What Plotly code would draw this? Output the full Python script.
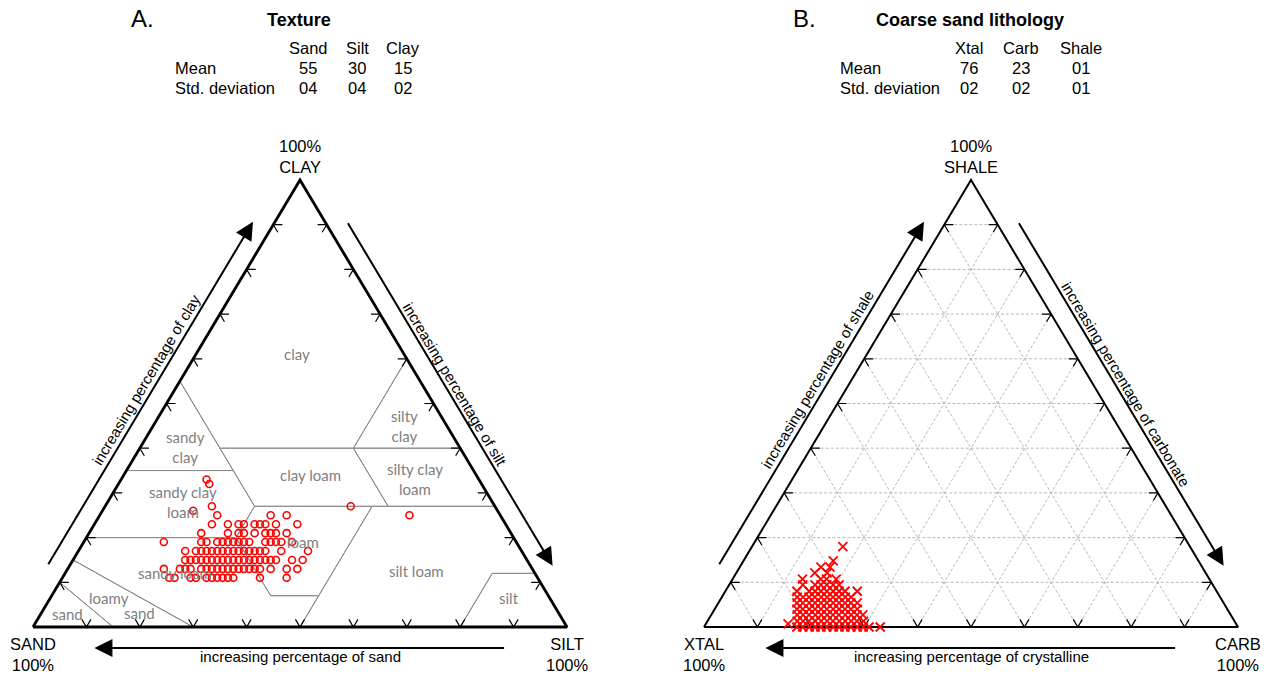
import math
import plotly.graph_objects as go

# ---------------------------------------------------------------- data ----
# Panel A - soil texture of the samples, grouped by clay content (%);
# each row lists the silt contents (%) observed at that clay level.
tex_clay_rows = [11, 13, 15, 17, 19, 21, 23, 25, 26, 27, 32, 33]
tex_silt_rows = [
    [20, 21, 24, 25, 27, 28, 29, 30, 31, 32, 37, 42],
    [18, 21, 22, 23, 25, 26, 27, 28, 29, 30, 31, 32, 33, 34, 35, 36, 38, 41, 43],
    [21, 22, 23, 24, 25, 26, 27, 28, 29, 30, 31, 32, 33, 34, 35, 36, 37, 38, 41, 43],
    [20, 22, 23, 24, 25, 26, 27, 28, 29, 30, 31, 32, 33, 34, 35, 38, 43],
    [15, 22, 23, 25, 26, 27, 28, 29, 30, 31, 34, 35, 36, 37, 39],
    [21, 26, 28, 29, 31, 33, 34, 35, 37],
    [22, 25, 27, 28, 30, 31, 32, 34, 38],
    [22, 32, 35, 58],
    [17],
    [20, 46],
    [17],
    [16],
]

# Panel B - coarse sand lithology, grouped by shale content (%);
# each row lists the carbonate contents (%) at that shale level.
lith_shale_rows = [0, 0.7, 1.3, 2.7, 4.0, 5.4, 6.7, 8.0, 9.4, 10.7, 12.1, 13.4, 14.8, 18.0]
lith_carb_rows = [
    [17.4, 18.5, 19.7, 20.8, 21.9, 23.0, 24.2, 25.3, 26.4, 27.5, 28.7, 29.8, 30.9, 33.0],
    [15.4],
    [16.8, 17.9, 19.0, 20.2, 21.3, 22.4, 23.5, 24.7, 25.8, 26.9, 28.0, 29.2],
    [16.1, 17.2, 18.3, 19.5, 20.6, 21.7, 22.8, 23.9, 25.1, 26.2, 27.3, 28.4],
    [15.4, 16.5, 17.7, 18.8, 19.9, 21.0, 22.2, 23.3, 24.4, 25.5, 26.7],
    [14.7, 15.8, 17.0, 18.1, 19.2, 20.3, 21.5, 22.6, 23.7, 24.8, 26.0],
    [14.1, 15.2, 16.3, 17.4, 18.6, 19.7, 20.8, 21.9, 23.1, 24.2],
    [13.4, 15.7, 16.8, 17.9, 19.0, 20.2, 21.3, 22.4, 24.7],
    [13.8, 16.1, 17.2, 18.3, 19.5, 20.6],
    [13.1, 16.5, 17.6, 19.4],
    [14.7, 17.0],
    [15.2, 16.9],
    [16.8],
    [17.0],
]

# summary tables
tex_columns = ["Sand", "Silt", "Clay"]
tex_mean = ["55", "30", "15"]
tex_sd = ["04", "04", "02"]
lith_columns = ["Xtal", "Carb", "Shale"]
lith_mean = ["76", "23", "01"]
lith_sd = ["02", "02", "01"]

# USDA texture classes, vertices as (sand, silt, clay) %
usda_classes = {
    "clay": [(0, 0, 100), (45, 0, 55), (45, 15, 40), (20, 40, 40), (0, 40, 60)],
    "sandy clay": [(45, 0, 55), (65, 0, 35), (45, 20, 35), (45, 15, 40)],
    "silty clay": [(0, 40, 60), (20, 40, 40), (0, 60, 40)],
    "clay loam": [(45, 15, 40), (45, 28, 27), (20, 53, 27), (20, 40, 40)],
    "silty clay loam": [(20, 40, 40), (20, 53, 27), (0, 73, 27), (0, 60, 40)],
    "sandy clay loam": [(65, 0, 35), (80, 0, 20), (52, 28, 20), (45, 28, 27), (45, 20, 35)],
    "loam": [(45, 28, 27), (52, 28, 20), (52, 41, 7), (43, 50, 7), (23, 50, 27)],
    "silt loam": [(50, 50, 0), (43, 50, 7), (23, 50, 27), (0, 73, 27), (0, 88, 12),
                  (8, 80, 12), (20, 80, 0)],
    "silt": [(20, 80, 0), (8, 80, 12), (0, 88, 12), (0, 100, 0)],
    "sandy loam": [(80, 0, 20), (52, 28, 20), (52, 41, 7), (43, 50, 7), (50, 50, 0),
                   (70, 30, 0), (85, 0, 15)],
    "loamy sand": [(85, 0, 15), (70, 30, 0), (85, 15, 0), (90, 0, 10)],
    "sand": [(90, 0, 10), (85, 15, 0), (100, 0, 0)],
}

# class names and where they sit, as (sand, silt, clay) %
class_labels = [
    ("clay", (20, 19, 61)),
    ("sandy<br>clay", (51.4, 8.4, 40.2)),
    ("silty<br>clay", (8, 47, 45)),
    ("clay loam", (31, 35, 34)),
    ("silty clay<br>loam", (12, 55, 33)),
    ("sandy clay<br>loam", (58, 14, 28)),
    ("loam", (40, 41, 19)),
    ("sandy loam", (67.5, 20.5, 12)),
    ("silt loam", (22, 65.5, 12.5)),
    ("loamy", (82.5, 11, 6.5)),
    ("sand", (78.6, 18.3, 3.1)),
    ("sand", (92, 5, 3)),
    ("silt", (7.6, 86, 6.4)),
]

# ------------------------------------------------------------ geometry ----
W_FIG, H_FIG = 1271, 675
SANS = "Liberation Sans, Arial, sans-serif"
CLASS_FONT = "Lato, Carlito, sans-serif"

PANELS = {
    "A": dict(x0=33, base=627, w=534, h=447),
    "B": dict(x0=704, base=627, w=534, h=447),
}


def to_xy(p, right, top):
    """Ternary composition (right-corner %, top-corner %) to plot coords."""
    g = PANELS[p]
    x = g["x0"] + (right + top / 2.0) / 100.0 * g["w"]
    y = g["base"] - top / 100.0 * g["h"]
    return x, y


def normals(p):
    g = PANELS[p]
    L = math.hypot(g["w"] / 2.0, g["h"])
    left = (-g["h"] / L, -(g["w"] / 2.0) / L)
    right = (g["h"] / L, -(g["w"] / 2.0) / L)
    return left, right, (0.0, 1.0)


def edge_angle(p):
    g = PANELS[p]
    return math.degrees(math.atan2(g["h"], g["w"] / 2.0))


fig = go.Figure()
ann = []


def add_text(x, y, s, size=13, color="black", family=SANS, angle=0,
             xanchor="center", yanchor="middle"):
    ann.append(dict(x=x, y=y, xref="x", yref="y", text=s, showarrow=False,
                    font=dict(size=size, color=color, family=family),
                    textangle=angle, xanchor=xanchor, yanchor=yanchor))


def add_arrow(tail, tip):
    ann.append(dict(x=tip[0], y=tip[1], ax=tail[0], ay=tail[1],
                    xref="x", yref="y", axref="x", ayref="y", text="",
                    showarrow=True, arrowhead=2, arrowsize=1.8,
                    arrowwidth=2, arrowcolor="black", standoff=0))


def path_trace(xs, ys, color, width, dash="solid"):
    fig.add_trace(go.Scatter(x=xs, y=ys, mode="lines", hoverinfo="skip",
                             line=dict(color=color, width=width, dash=dash)))


# -------------------------------------------- panel B dashed grid lines ----
gx, gy = [], []
for k in range(10, 100, 10):
    for a, b in (((0, k), (100 - k, k)),
                 ((k, 0), (k, 100 - k)),
                 ((100 - k, 0), (0, 100 - k))):
        p1, p2 = to_xy("B", *a), to_xy("B", *b)
        gx += [p1[0], p2[0], None]
        gy += [p1[1], p2[1], None]
path_trace(gx, gy, "#b8b8b8", 1, dash="3px,2px")

# ------------------------------------------------ panel A class borders ----
cx, cy = [], []
for verts in usda_classes.values():
    pts = [to_xy("A", silt, clay) for sand, silt, clay in verts]
    pts.append(pts[0])
    cx += [q[0] for q in pts] + [None]
    cy += [q[1] for q in pts] + [None]
path_trace(cx, cy, "#8a8a8a", 1)

for name, (sand, silt, clay) in class_labels:
    x, y = to_xy("A", silt, clay)
    add_text(x, y, name, size=15, color="#808080", family=CLASS_FONT)

# ------------------------------------------- ticks, frames and arrows ----
TICK = 1.7
for p, frame_w in (("A", 2.8), ("B", 2.0)):
    tx, ty = [], []
    for k in range(10, 100, 10):
        arms = [
            (to_xy(p, k - TICK, TICK), to_xy(p, k, 0), to_xy(p, k, TICK)),
            (to_xy(p, TICK, k), to_xy(p, 0, k), to_xy(p, TICK, k - TICK)),
            (to_xy(p, 100 - k - TICK, k), to_xy(p, 100 - k, k),
             to_xy(p, 100 - k, k - TICK)),
        ]
        for a1, c, a2 in arms:
            tx += [a1[0], c[0], a2[0], None]
            ty += [a1[1], c[1], a2[1], None]
    path_trace(tx, ty, "black", 1.2)

    corners = [to_xy(p, 0, 0), to_xy(p, 100, 0), to_xy(p, 0, 100), to_xy(p, 0, 0)]
    path_trace([q[0] for q in corners], [q[1] for q in corners], "black", frame_w)

    n_left, n_right, n_bot = normals(p)
    off_line, off_text = 19, 30

    def shift(pt, n, d):
        return (pt[0] + n[0] * d, pt[1] + n[1] * d)

    # arrows alongside the three edges
    add_arrow(shift(to_xy(p, 0, 11.5), n_left, off_line),
              shift(to_xy(p, 0, 88.5), n_left, off_line))
    add_arrow(shift(to_xy(p, 11.5, 88.5), n_right, off_line),
              shift(to_xy(p, 88.5, 11.5), n_right, off_line))
    add_arrow(shift(to_xy(p, 88.5, 0), n_bot, 21),
              shift(to_xy(p, 11.5, 0), n_bot, 21))

    ang = edge_angle(p)
    if p == "A":
        words = ("clay", "silt", "sand")
        names = ("CLAY", "SAND", "SILT")
    else:
        words = ("shale", "carbonate", "crystalline")
        names = ("SHALE", "XTAL", "CARB")
    lx, ly = shift(to_xy(p, 0, 52), n_left, off_text)
    add_text(lx, ly, "increasing percentage of " + words[0], size=15, angle=-ang)
    rx, ry = shift(to_xy(p, 49, 51), n_right, off_text - 2)
    add_text(rx, ry, "increasing percentage of " + words[1], size=15, angle=ang)
    bx, by = to_xy(p, 50, 0)
    add_text(bx, by + 29, "increasing percentage of " + words[2], size=15)

    apex = to_xy(p, 0, 100)
    add_text(apex[0], apex[1] - 24, "100%<br>" + names[0], size=16.5)
    lc, rc = to_xy(p, 0, 0), to_xy(p, 100, 0)
    add_text(lc[0], lc[1] + 27, names[1] + "<br>100%", size=16.5)
    add_text(rc[0], rc[1] + 27, names[2] + "<br>100%", size=16.5)

# ---------------------------------------------------------- data marks ----
tx_, ty_ = [], []
for clay, silts in zip(tex_clay_rows, tex_silt_rows):
    for silt in silts:
        x, y = to_xy("A", silt, clay)
        tx_.append(x)
        ty_.append(y)
fig.add_trace(go.Scatter(x=tx_, y=ty_, mode="markers", hoverinfo="skip",
                         marker=dict(symbol="circle-open", size=7, color="#ff0000",
                                     line=dict(width=1.6, color="#ff0000"))))

lx_, ly_ = [], []
for shale, carbs in zip(lith_shale_rows, lith_carb_rows):
    for carb in carbs:
        x, y = to_xy("B", carb, shale)
        lx_.append(x)
        ly_.append(y)
fig.add_trace(go.Scatter(x=lx_, y=ly_, mode="markers", hoverinfo="skip",
                         marker=dict(symbol="x-thin", size=9, color="#ff0000",
                                     line=dict(width=1.8, color="#ff0000"))))

# ---------------------------------------------------- headings, tables ----
for letter, lx0, title, tx0, cols, col_x, means, sds, row_x in (
        ("A.", 142, "Texture", 299, tex_columns, [308, 357, 403], tex_mean, tex_sd, 173),
        ("B.", 804, "Coarse sand lithology", 970, lith_columns, [969, 1021, 1081],
         lith_mean, lith_sd, 838)):
    add_text(lx0, 18, letter, size=24)
    add_text(tx0, 20, "<b>" + title + "</b>", size=18)
    for c, xc, m, s in zip(cols, col_x, means, sds):
        add_text(xc, 48, c, size=16.5)
        add_text(xc, 67.5, m, size=16.5)
        add_text(xc, 87.5, s, size=16.5)
    add_text(row_x, 67.5, "Mean", size=16.5, xanchor="left")
    add_text(row_x, 87.5, "Std. deviation", size=16.5, xanchor="left")

fig.update_layout(
    width=W_FIG, height=H_FIG,
    margin=dict(l=0, r=0, t=0, b=0),
    paper_bgcolor="white", plot_bgcolor="white",
    showlegend=False,
    annotations=ann,
    xaxis=dict(range=[0, W_FIG], visible=False, fixedrange=True),
    yaxis=dict(range=[H_FIG, 0], visible=False, fixedrange=True),
)

fig.write_html("out.html")
